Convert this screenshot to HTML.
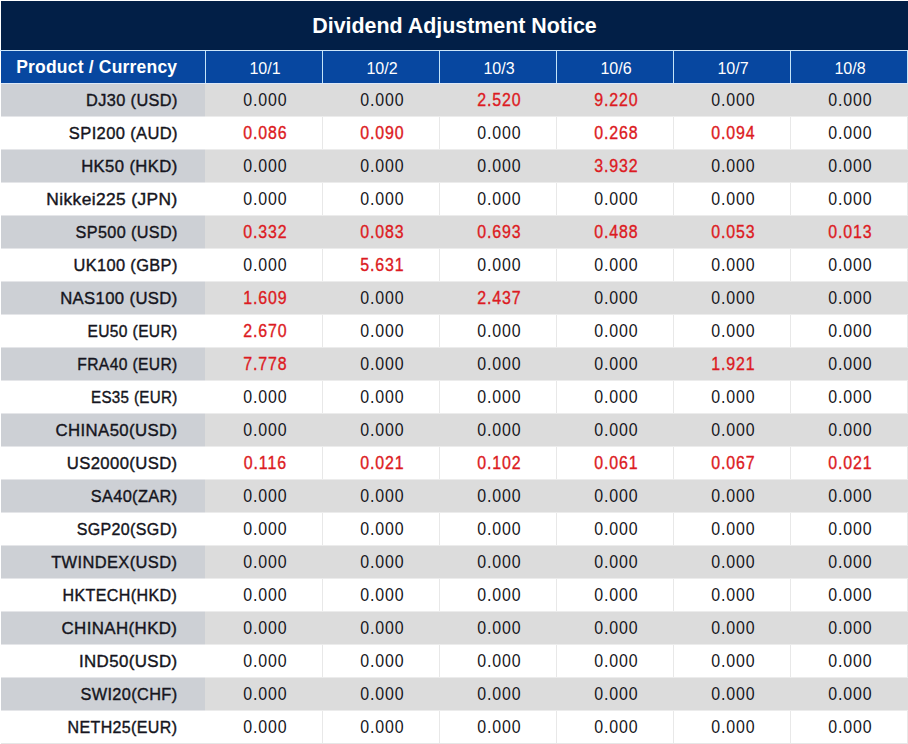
<!DOCTYPE html>
<html><head><meta charset="utf-8"><style>
*{margin:0;padding:0;box-sizing:border-box}
html,body{width:908px;height:744px;overflow:hidden;background:#fff}
body{position:relative;font-family:"Liberation Sans",sans-serif}
.a{position:absolute}
.t{position:absolute;white-space:nowrap;line-height:1}
#title{left:1px;top:1px;width:907px;height:49px;background:#021f47}
#title .t{left:0;width:907px;text-align:center;top:14.5px;font-weight:bold;font-size:21.4px;color:#fff}
.hb{top:51px;height:32px;background:#0747a0}
.hl{top:83px;left:1px;width:907px;height:1px;background:#dce8f8}
#tl{left:0;top:50px;width:908px;height:1px;background:#cde6fa}
.vl{top:51px;width:1px;height:32px;background:#c4e4f8}
.wl{width:1px;height:32px;background:#e8e8e8}
.ht{color:#fff;top:60px}
.g{background:#dcdcdc;left:1px;width:907px;height:32px}
.gb{background:#ececec;left:1px;width:907px;height:1px}
.gb0{background:#e5e6e9;left:1px;width:204px;height:1px}
.g0{background:#cdd0d5;left:1px;width:204px;height:32px}
.n{transform-origin:100% 50%;-webkit-text-stroke:0.4px #151520;letter-spacing:0.4px;right:730.4px;color:#151520;font-size:17.4px}
.v{width:116px;text-align:center;padding-left:3px;letter-spacing:1px;transform:scaleX(0.91);color:#151520;font-size:17.5px}
.r{color:#dc1a22;-webkit-text-stroke:0.35px #dc1a22}
#bl{left:1px;top:743px;width:907px;height:1px;background:#e6e6e6}
</style></head><body>
<div id="title" class="a"><div class="t">Dividend Adjustment Notice</div></div>
<div class="a hb" style="left:1px;width:204px"></div>
<div class="a hb" style="left:206px;width:116px"></div>
<div class="a hb" style="left:323px;width:116px"></div>
<div class="a hb" style="left:440px;width:116px"></div>
<div class="a hb" style="left:557px;width:116px"></div>
<div class="a hb" style="left:674px;width:116px"></div>
<div class="a hb" style="left:791px;width:116px"></div>
<div class="a hl"></div>
<div id="tl" class="a"></div>
<div class="a vl" style="left:205px"></div>
<div class="a vl" style="left:322px"></div>
<div class="a vl" style="left:439px"></div>
<div class="a vl" style="left:556px"></div>
<div class="a vl" style="left:673px"></div>
<div class="a vl" style="left:790px"></div>
<div class="a vl" style="left:907px"></div>
<div class="t ht" style="right:730.7px;top:59px;letter-spacing:0.2px;font-weight:bold;font-size:17.5px">Product / Currency</div>
<div class="t ht" style="left:206px;width:116px;text-align:center;padding-left:2px;top:61px;font-size:16px">10/1</div>
<div class="t ht" style="left:323px;width:116px;text-align:center;padding-left:2px;top:61px;font-size:16px">10/2</div>
<div class="t ht" style="left:440px;width:116px;text-align:center;padding-left:2px;top:61px;font-size:16px">10/3</div>
<div class="t ht" style="left:557px;width:116px;text-align:center;padding-left:2px;top:61px;font-size:16px">10/6</div>
<div class="t ht" style="left:674px;width:116px;text-align:center;padding-left:2px;top:61px;font-size:16px">10/7</div>
<div class="t ht" style="left:791px;width:116px;text-align:center;padding-left:2px;top:61px;font-size:16px">10/8</div>
<div class="a g" style="top:84px"></div>
<div class="a g0" style="top:84px"></div>
<div class="a gb" style="top:116px"></div>
<div class="a gb0" style="top:116px"></div>
<div class="t n" style="top:92px;transform:scaleX(0.9374)">DJ30 (USD)</div>
<div class="t v" style="left:206px;top:92px">0.000</div>
<div class="t v" style="left:323px;top:92px">0.000</div>
<div class="t v r" style="left:440px;top:92px">2.520</div>
<div class="t v r" style="left:557px;top:92px">9.220</div>
<div class="t v" style="left:674px;top:92px">0.000</div>
<div class="t v" style="left:791px;top:92px">0.000</div>
<div class="a wl" style="left:322px;top:117px"></div>
<div class="a wl" style="left:439px;top:117px"></div>
<div class="a wl" style="left:556px;top:117px"></div>
<div class="a wl" style="left:673px;top:117px"></div>
<div class="a wl" style="left:790px;top:117px"></div>
<div class="a wl" style="left:907px;top:117px"></div>
<div class="t n" style="top:125px;transform:scaleX(0.9490)">SPI200 (AUD)</div>
<div class="t v r" style="left:206px;top:125px">0.086</div>
<div class="t v r" style="left:323px;top:125px">0.090</div>
<div class="t v" style="left:440px;top:125px">0.000</div>
<div class="t v r" style="left:557px;top:125px">0.268</div>
<div class="t v r" style="left:674px;top:125px">0.094</div>
<div class="t v" style="left:791px;top:125px">0.000</div>
<div class="a g" style="top:150px"></div>
<div class="a g0" style="top:150px"></div>
<div class="a gb" style="top:149px"></div>
<div class="a gb0" style="top:149px"></div>
<div class="a gb" style="top:182px"></div>
<div class="a gb0" style="top:182px"></div>
<div class="t n" style="top:158px;transform:scaleX(0.9585)">HK50 (HKD)</div>
<div class="t v" style="left:206px;top:158px">0.000</div>
<div class="t v" style="left:323px;top:158px">0.000</div>
<div class="t v" style="left:440px;top:158px">0.000</div>
<div class="t v r" style="left:557px;top:158px">3.932</div>
<div class="t v" style="left:674px;top:158px">0.000</div>
<div class="t v" style="left:791px;top:158px">0.000</div>
<div class="a wl" style="left:322px;top:183px"></div>
<div class="a wl" style="left:439px;top:183px"></div>
<div class="a wl" style="left:556px;top:183px"></div>
<div class="a wl" style="left:673px;top:183px"></div>
<div class="a wl" style="left:790px;top:183px"></div>
<div class="a wl" style="left:907px;top:183px"></div>
<div class="t n" style="top:191px;transform:scaleX(0.9977)">Nikkei225 (JPN)</div>
<div class="t v" style="left:206px;top:191px">0.000</div>
<div class="t v" style="left:323px;top:191px">0.000</div>
<div class="t v" style="left:440px;top:191px">0.000</div>
<div class="t v" style="left:557px;top:191px">0.000</div>
<div class="t v" style="left:674px;top:191px">0.000</div>
<div class="t v" style="left:791px;top:191px">0.000</div>
<div class="a g" style="top:216px"></div>
<div class="a g0" style="top:216px"></div>
<div class="a gb" style="top:215px"></div>
<div class="a gb0" style="top:215px"></div>
<div class="a gb" style="top:248px"></div>
<div class="a gb0" style="top:248px"></div>
<div class="t n" style="top:224px;transform:scaleX(0.9311)">SP500 (USD)</div>
<div class="t v r" style="left:206px;top:224px">0.332</div>
<div class="t v r" style="left:323px;top:224px">0.083</div>
<div class="t v r" style="left:440px;top:224px">0.693</div>
<div class="t v r" style="left:557px;top:224px">0.488</div>
<div class="t v r" style="left:674px;top:224px">0.053</div>
<div class="t v r" style="left:791px;top:224px">0.013</div>
<div class="a wl" style="left:322px;top:249px"></div>
<div class="a wl" style="left:439px;top:249px"></div>
<div class="a wl" style="left:556px;top:249px"></div>
<div class="a wl" style="left:673px;top:249px"></div>
<div class="a wl" style="left:790px;top:249px"></div>
<div class="a wl" style="left:907px;top:249px"></div>
<div class="t n" style="top:257px;transform:scaleX(0.9412)">UK100 (GBP)</div>
<div class="t v" style="left:206px;top:257px">0.000</div>
<div class="t v r" style="left:323px;top:257px">5.631</div>
<div class="t v" style="left:440px;top:257px">0.000</div>
<div class="t v" style="left:557px;top:257px">0.000</div>
<div class="t v" style="left:674px;top:257px">0.000</div>
<div class="t v" style="left:791px;top:257px">0.000</div>
<div class="a g" style="top:282px"></div>
<div class="a g0" style="top:282px"></div>
<div class="a gb" style="top:281px"></div>
<div class="a gb0" style="top:281px"></div>
<div class="a gb" style="top:314px"></div>
<div class="a gb0" style="top:314px"></div>
<div class="t n" style="top:290px;transform:scaleX(0.9578)">NAS100 (USD)</div>
<div class="t v r" style="left:206px;top:290px">1.609</div>
<div class="t v" style="left:323px;top:290px">0.000</div>
<div class="t v r" style="left:440px;top:290px">2.437</div>
<div class="t v" style="left:557px;top:290px">0.000</div>
<div class="t v" style="left:674px;top:290px">0.000</div>
<div class="t v" style="left:791px;top:290px">0.000</div>
<div class="a wl" style="left:322px;top:315px"></div>
<div class="a wl" style="left:439px;top:315px"></div>
<div class="a wl" style="left:556px;top:315px"></div>
<div class="a wl" style="left:673px;top:315px"></div>
<div class="a wl" style="left:790px;top:315px"></div>
<div class="a wl" style="left:907px;top:315px"></div>
<div class="t n" style="top:323px;transform:scaleX(0.8957)">EU50 (EUR)</div>
<div class="t v r" style="left:206px;top:323px">2.670</div>
<div class="t v" style="left:323px;top:323px">0.000</div>
<div class="t v" style="left:440px;top:323px">0.000</div>
<div class="t v" style="left:557px;top:323px">0.000</div>
<div class="t v" style="left:674px;top:323px">0.000</div>
<div class="t v" style="left:791px;top:323px">0.000</div>
<div class="a g" style="top:348px"></div>
<div class="a g0" style="top:348px"></div>
<div class="a gb" style="top:347px"></div>
<div class="a gb0" style="top:347px"></div>
<div class="a gb" style="top:380px"></div>
<div class="a gb0" style="top:380px"></div>
<div class="t n" style="top:356px;transform:scaleX(0.8989)">FRA40 (EUR)</div>
<div class="t v r" style="left:206px;top:356px">7.778</div>
<div class="t v" style="left:323px;top:356px">0.000</div>
<div class="t v" style="left:440px;top:356px">0.000</div>
<div class="t v" style="left:557px;top:356px">0.000</div>
<div class="t v r" style="left:674px;top:356px">1.921</div>
<div class="t v" style="left:791px;top:356px">0.000</div>
<div class="a wl" style="left:322px;top:381px"></div>
<div class="a wl" style="left:439px;top:381px"></div>
<div class="a wl" style="left:556px;top:381px"></div>
<div class="a wl" style="left:673px;top:381px"></div>
<div class="a wl" style="left:790px;top:381px"></div>
<div class="a wl" style="left:907px;top:381px"></div>
<div class="t n" style="top:389px;transform:scaleX(0.8701)">ES35 (EUR)</div>
<div class="t v" style="left:206px;top:389px">0.000</div>
<div class="t v" style="left:323px;top:389px">0.000</div>
<div class="t v" style="left:440px;top:389px">0.000</div>
<div class="t v" style="left:557px;top:389px">0.000</div>
<div class="t v" style="left:674px;top:389px">0.000</div>
<div class="t v" style="left:791px;top:389px">0.000</div>
<div class="a g" style="top:414px"></div>
<div class="a g0" style="top:414px"></div>
<div class="a gb" style="top:413px"></div>
<div class="a gb0" style="top:413px"></div>
<div class="a gb" style="top:446px"></div>
<div class="a gb0" style="top:446px"></div>
<div class="t n" style="top:422px;transform:scaleX(0.9642)">CHINA50(USD)</div>
<div class="t v" style="left:206px;top:422px">0.000</div>
<div class="t v" style="left:323px;top:422px">0.000</div>
<div class="t v" style="left:440px;top:422px">0.000</div>
<div class="t v" style="left:557px;top:422px">0.000</div>
<div class="t v" style="left:674px;top:422px">0.000</div>
<div class="t v" style="left:791px;top:422px">0.000</div>
<div class="a wl" style="left:322px;top:447px"></div>
<div class="a wl" style="left:439px;top:447px"></div>
<div class="a wl" style="left:556px;top:447px"></div>
<div class="a wl" style="left:673px;top:447px"></div>
<div class="a wl" style="left:790px;top:447px"></div>
<div class="a wl" style="left:907px;top:447px"></div>
<div class="t n" style="top:455px;transform:scaleX(0.9587)">US2000(USD)</div>
<div class="t v r" style="left:206px;top:455px">0.116</div>
<div class="t v r" style="left:323px;top:455px">0.021</div>
<div class="t v r" style="left:440px;top:455px">0.102</div>
<div class="t v r" style="left:557px;top:455px">0.061</div>
<div class="t v r" style="left:674px;top:455px">0.067</div>
<div class="t v r" style="left:791px;top:455px">0.021</div>
<div class="a g" style="top:480px"></div>
<div class="a g0" style="top:480px"></div>
<div class="a gb" style="top:479px"></div>
<div class="a gb0" style="top:479px"></div>
<div class="a gb" style="top:512px"></div>
<div class="a gb0" style="top:512px"></div>
<div class="t n" style="top:488px;transform:scaleX(0.9390)">SA40(ZAR)</div>
<div class="t v" style="left:206px;top:488px">0.000</div>
<div class="t v" style="left:323px;top:488px">0.000</div>
<div class="t v" style="left:440px;top:488px">0.000</div>
<div class="t v" style="left:557px;top:488px">0.000</div>
<div class="t v" style="left:674px;top:488px">0.000</div>
<div class="t v" style="left:791px;top:488px">0.000</div>
<div class="a wl" style="left:322px;top:513px"></div>
<div class="a wl" style="left:439px;top:513px"></div>
<div class="a wl" style="left:556px;top:513px"></div>
<div class="a wl" style="left:673px;top:513px"></div>
<div class="a wl" style="left:790px;top:513px"></div>
<div class="a wl" style="left:907px;top:513px"></div>
<div class="t n" style="top:521px;transform:scaleX(0.9210)">SGP20(SGD)</div>
<div class="t v" style="left:206px;top:521px">0.000</div>
<div class="t v" style="left:323px;top:521px">0.000</div>
<div class="t v" style="left:440px;top:521px">0.000</div>
<div class="t v" style="left:557px;top:521px">0.000</div>
<div class="t v" style="left:674px;top:521px">0.000</div>
<div class="t v" style="left:791px;top:521px">0.000</div>
<div class="a g" style="top:546px"></div>
<div class="a g0" style="top:546px"></div>
<div class="a gb" style="top:545px"></div>
<div class="a gb0" style="top:545px"></div>
<div class="a gb" style="top:578px"></div>
<div class="a gb0" style="top:578px"></div>
<div class="t n" style="top:554px;transform:scaleX(0.9465)">TWINDEX(USD)</div>
<div class="t v" style="left:206px;top:554px">0.000</div>
<div class="t v" style="left:323px;top:554px">0.000</div>
<div class="t v" style="left:440px;top:554px">0.000</div>
<div class="t v" style="left:557px;top:554px">0.000</div>
<div class="t v" style="left:674px;top:554px">0.000</div>
<div class="t v" style="left:791px;top:554px">0.000</div>
<div class="a wl" style="left:322px;top:579px"></div>
<div class="a wl" style="left:439px;top:579px"></div>
<div class="a wl" style="left:556px;top:579px"></div>
<div class="a wl" style="left:673px;top:579px"></div>
<div class="a wl" style="left:790px;top:579px"></div>
<div class="a wl" style="left:907px;top:579px"></div>
<div class="t n" style="top:587px;transform:scaleX(0.9243)">HKTECH(HKD)</div>
<div class="t v" style="left:206px;top:587px">0.000</div>
<div class="t v" style="left:323px;top:587px">0.000</div>
<div class="t v" style="left:440px;top:587px">0.000</div>
<div class="t v" style="left:557px;top:587px">0.000</div>
<div class="t v" style="left:674px;top:587px">0.000</div>
<div class="t v" style="left:791px;top:587px">0.000</div>
<div class="a g" style="top:612px"></div>
<div class="a g0" style="top:612px"></div>
<div class="a gb" style="top:611px"></div>
<div class="a gb0" style="top:611px"></div>
<div class="a gb" style="top:644px"></div>
<div class="a gb0" style="top:644px"></div>
<div class="t n" style="top:620px;transform:scaleX(0.9705)">CHINAH(HKD)</div>
<div class="t v" style="left:206px;top:620px">0.000</div>
<div class="t v" style="left:323px;top:620px">0.000</div>
<div class="t v" style="left:440px;top:620px">0.000</div>
<div class="t v" style="left:557px;top:620px">0.000</div>
<div class="t v" style="left:674px;top:620px">0.000</div>
<div class="t v" style="left:791px;top:620px">0.000</div>
<div class="a wl" style="left:322px;top:645px"></div>
<div class="a wl" style="left:439px;top:645px"></div>
<div class="a wl" style="left:556px;top:645px"></div>
<div class="a wl" style="left:673px;top:645px"></div>
<div class="a wl" style="left:790px;top:645px"></div>
<div class="a wl" style="left:907px;top:645px"></div>
<div class="t n" style="top:653px;transform:scaleX(0.9709)">IND50(USD)</div>
<div class="t v" style="left:206px;top:653px">0.000</div>
<div class="t v" style="left:323px;top:653px">0.000</div>
<div class="t v" style="left:440px;top:653px">0.000</div>
<div class="t v" style="left:557px;top:653px">0.000</div>
<div class="t v" style="left:674px;top:653px">0.000</div>
<div class="t v" style="left:791px;top:653px">0.000</div>
<div class="a g" style="top:678px"></div>
<div class="a g0" style="top:678px"></div>
<div class="a gb" style="top:677px"></div>
<div class="a gb0" style="top:677px"></div>
<div class="a gb" style="top:710px"></div>
<div class="a gb0" style="top:710px"></div>
<div class="t n" style="top:686px;transform:scaleX(0.9377)">SWI20(CHF)</div>
<div class="t v" style="left:206px;top:686px">0.000</div>
<div class="t v" style="left:323px;top:686px">0.000</div>
<div class="t v" style="left:440px;top:686px">0.000</div>
<div class="t v" style="left:557px;top:686px">0.000</div>
<div class="t v" style="left:674px;top:686px">0.000</div>
<div class="t v" style="left:791px;top:686px">0.000</div>
<div class="a wl" style="left:322px;top:711px"></div>
<div class="a wl" style="left:439px;top:711px"></div>
<div class="a wl" style="left:556px;top:711px"></div>
<div class="a wl" style="left:673px;top:711px"></div>
<div class="a wl" style="left:790px;top:711px"></div>
<div class="a wl" style="left:907px;top:711px"></div>
<div class="t n" style="top:719px;transform:scaleX(0.9202)">NETH25(EUR)</div>
<div class="t v" style="left:206px;top:719px">0.000</div>
<div class="t v" style="left:323px;top:719px">0.000</div>
<div class="t v" style="left:440px;top:719px">0.000</div>
<div class="t v" style="left:557px;top:719px">0.000</div>
<div class="t v" style="left:674px;top:719px">0.000</div>
<div class="t v" style="left:791px;top:719px">0.000</div>
<div id="bl" class="a"></div>
</body></html>
